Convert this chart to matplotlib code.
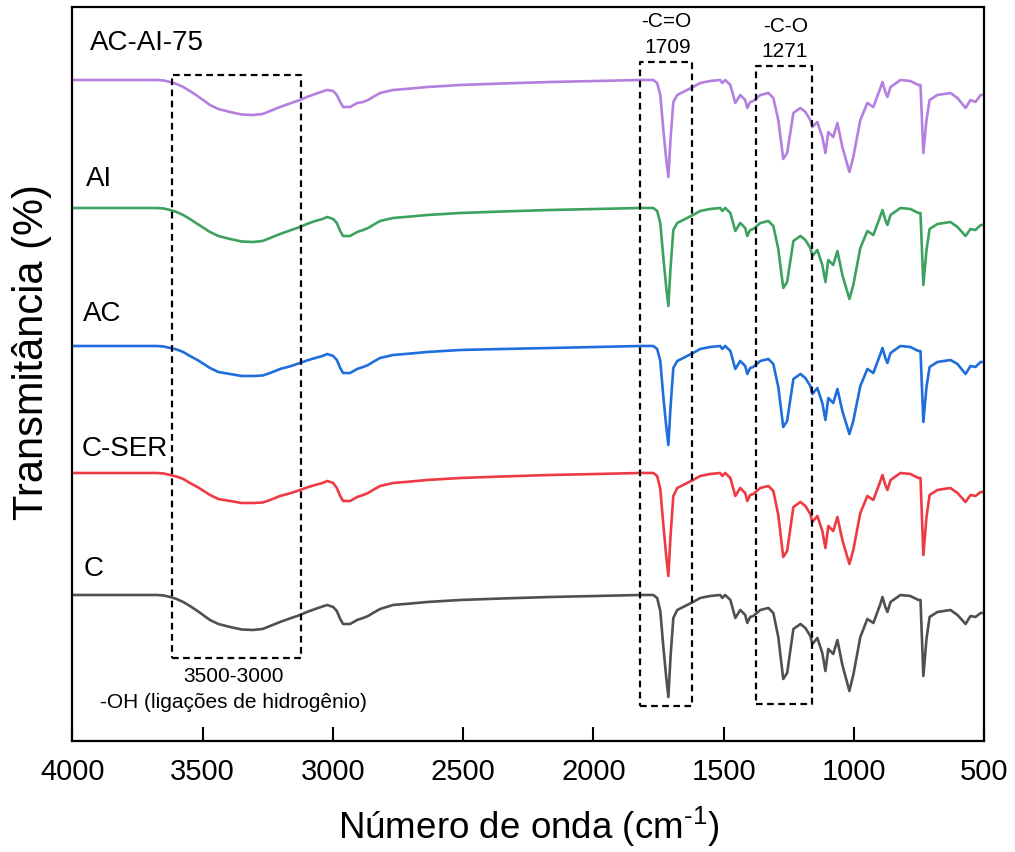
import matplotlib
matplotlib.use("Agg")
import matplotlib.pyplot as plt

plt.rcParams['font.family'] = ['Liberation Sans', 'DejaVu Sans']
plt.rcParams['mathtext.fontset'] = 'custom'
plt.rcParams['mathtext.rm'] = 'Liberation Sans'

# === DATA ===
# wavenumber grid, cm-1
wavenumber = [4000, 3675, 3650, 3625, 3600, 3575, 3549, 3520, 3472, 3440,
              3395, 3350, 3307, 3270, 3241, 3203, 3160, 3126, 3100, 3068,
              3040, 3022, 2999, 2985, 2972, 2961, 2934, 2907, 2884, 2865,
              2846, 2819, 2769, 2700, 2638, 2511, 2350, 2166, 1990, 1820,
              1770, 1755, 1743, 1732, 1720, 1712, 1704, 1693, 1678, 1640,
              1617, 1590, 1552, 1513, 1505, 1494, 1474, 1455, 1436, 1417,
              1409, 1398, 1386, 1359, 1328, 1309, 1290, 1271, 1256, 1232,
              1205, 1186, 1167, 1159, 1140, 1121, 1109, 1098, 1079, 1063,
              1044, 1017, 1002, 975, 948, 925, 898, 890, 879, 871,
              859, 821, 783, 752, 744, 733, 721, 709, 679, 629,
              602, 571, 552, 533, 513, 500]

# depth of each band below the trace baseline (arbitrary units)
depth_ac_ai_75 = [0, 0, 0.5, 2, 4, 7, 11, 16, 25, 29,
                  32, 34.5, 35, 34, 31, 27, 23, 20, 17, 14,
                  11.5, 10, 11, 15, 22, 27, 27, 23, 22, 20,
                  17, 13, 10, 8.5, 7, 5, 3.5, 2, 1, 0,
                  0, 3, 15, 48, 80, 97, 60, 22, 15, 10,
                  7, 3, 1, 0, 3, 0, 5, 23, 15, 20,
                  28, 22, 21, 15, 13, 18, 40, 79, 73, 33,
                  28, 32, 40, 47, 42, 57, 73, 52, 57, 43,
                  67, 92, 77, 40, 23, 27, 8, 2, 12, 17,
                  7, 0, 1, 5, 5, 73, 40, 20, 15, 13,
                  18, 28, 20, 22, 15, 15]
depth_ai = [0, 0, 0.5, 2, 4, 7, 11, 16, 24, 28,
            31, 33.5, 34, 33, 30, 26, 22, 19, 16, 13,
            11, 9, 11, 15, 23, 28, 28, 24, 22, 20,
            17, 13, 10, 8.5, 7, 5, 3.5, 2, 1, 0,
            0, 3, 15, 48, 80, 98, 61, 22, 15, 10,
            7, 3, 1, 0, 3, 0, 5, 23, 15, 20,
            28, 22, 21, 15, 13, 18, 41, 80, 74, 33,
            28, 32, 40, 48, 42, 57, 74, 52, 57, 43,
            67, 91, 77, 40, 23, 27, 8, 2, 12, 17,
            7, 0, 1, 5, 5, 77, 42, 21, 16, 14,
            19, 28, 21, 22, 17, 17]
depth_ac = [0, 0, 0.5, 2, 3.5, 6, 10, 14, 22, 26,
            28, 30, 30, 29.5, 27, 23, 20, 17, 14.5, 12,
            10, 8, 10, 14, 22, 27, 27, 23, 21, 19,
            16, 12, 9, 7.5, 6, 4, 3, 2, 1, 0,
            0, 3, 15, 49, 81, 99, 62, 22, 15, 10,
            7, 3, 1, 0, 3, 0, 5, 23, 15, 20,
            28, 22, 21, 15, 13, 18, 41, 81, 75, 33,
            28, 32, 40, 48, 42, 57, 74, 52, 57, 43,
            65, 88, 75, 40, 23, 27, 8, 2, 12, 17,
            7, 0, 1, 5, 5, 76, 41, 21, 16, 14,
            18, 28, 20, 21, 16, 16]
depth_c_ser = [0, 0, 0.5, 2, 3.5, 6, 10, 14, 22, 26,
               28, 30, 30, 29.5, 27, 23, 20, 17, 14.5, 12,
               10, 8, 10, 15, 23, 28, 28, 24, 22, 20,
               17, 13, 10, 8.5, 7, 5, 3.5, 2, 1, 0,
               0, 3, 16, 50, 84, 103, 64, 23, 15, 10,
               7, 3, 1, 0, 3, 0, 5, 23, 15, 20,
               28, 22, 21, 15, 13, 18, 42, 84, 78, 34,
               29, 33, 41, 49, 43, 58, 75, 53, 58, 44,
               67, 91, 77, 40, 23, 27, 8, 2, 12, 17,
               7, 0, 1, 5, 5, 82, 44, 22, 17, 15,
               20, 29, 22, 23, 19, 19]
depth_c = [0, 0, 0.5, 2, 4, 7, 11, 16, 25, 29,
           32, 34.5, 35, 34, 31, 27, 23, 20, 17, 14,
           11.5, 10, 12, 16, 24, 29, 29, 25, 23, 21,
           18, 14, 10, 8.5, 7, 5, 3.5, 2, 1, 0,
           0, 3, 16, 50, 83, 102, 63, 23, 15, 10,
           7, 3, 1, 0, 3, 0, 5, 23, 15, 20,
           28, 22, 21, 15, 13, 18, 42, 84, 78, 34,
           29, 33, 41, 49, 43, 58, 76, 54, 59, 45,
           70, 96, 80, 42, 24, 28, 9, 2, 12, 17,
           7, 0, 1, 5, 5, 81, 44, 22, 17, 15,
           20, 29, 21, 22, 18, 18]

samples = ["AC-AI-75", "AI", "AC", "C-SER", "C"]
depths = [depth_ac_ai_75, depth_ai, depth_ac, depth_c_ser, depth_c]
baselines = [661, 533, 395, 268, 146]
label_y = [698, 562, 427, 292, 172]
label_x = [3933, 3948, 3960, 3963, 3956]
colors = ["#B57FE0", "#3DA160", "#1F6EDC", "#EE3A43", "#505050"]

# highlighted regions: (wn_left, wn_right, bottom, top)
boxes = [(3617, 3122, 83, 666), (1820, 1621, 35, 679), (1375, 1162, 37, 675)]

# === PLOT ===
fig = plt.figure(figsize=(10.15, 8.52), dpi=100)
ax = fig.add_axes([0.0714, 0.1303, 0.8981, 0.8609])

for name, d, base, col, lx, ly in zip(samples, depths, baselines, colors, label_x, label_y):
    ax.plot(wavenumber, [base - v for v in d], color=col, lw=1.9)
    ax.text(lx, ly, name, fontsize=20, ha='left', va='center')

for x0, x1, y0, y1 in boxes:
    ax.plot([x0, x1, x1, x0, x0], [y0, y0, y1, y1, y0], color='black',
            lw=1.6, linestyle=(0, (3, 2)))

ax.text(1720, 719, "-C=O", fontsize=15, ha='center', va='center')
ax.text(1716, 693, "1709", fontsize=15, ha='center', va='center')
ax.text(1263, 714, "-C-O", fontsize=15, ha='center', va='center')
ax.text(1267, 689, "1271", fontsize=15, ha='center', va='center')
ax.text(3383, 64, "3500-3000", fontsize=15, ha='center', va='center')
ax.text(3383, 38, "-OH (ligações de hidrogênio)", fontsize=15, ha='center', va='center')

ax.set_xlim(4000, 500)
ax.set_ylim(0, 733.5)
ax.set_xticks([4000, 3500, 3000, 2500, 2000, 1500, 1000, 500])
ax.set_yticks([])
ax.tick_params(axis='x', direction='in', length=10, width=1.5, labelsize=21, pad=12)
for s in ax.spines.values():
    s.set_linewidth(1.6)

ax.set_xlabel(r"Número de onda (cm$^{\text{-1}}$)", fontsize=26.5, labelpad=13)
ax.set_ylabel("Transmitância (%)", fontsize=30)
ax.yaxis.set_label_coords(-0.023, 0.53)

plt.savefig("out.png", dpi=100)
